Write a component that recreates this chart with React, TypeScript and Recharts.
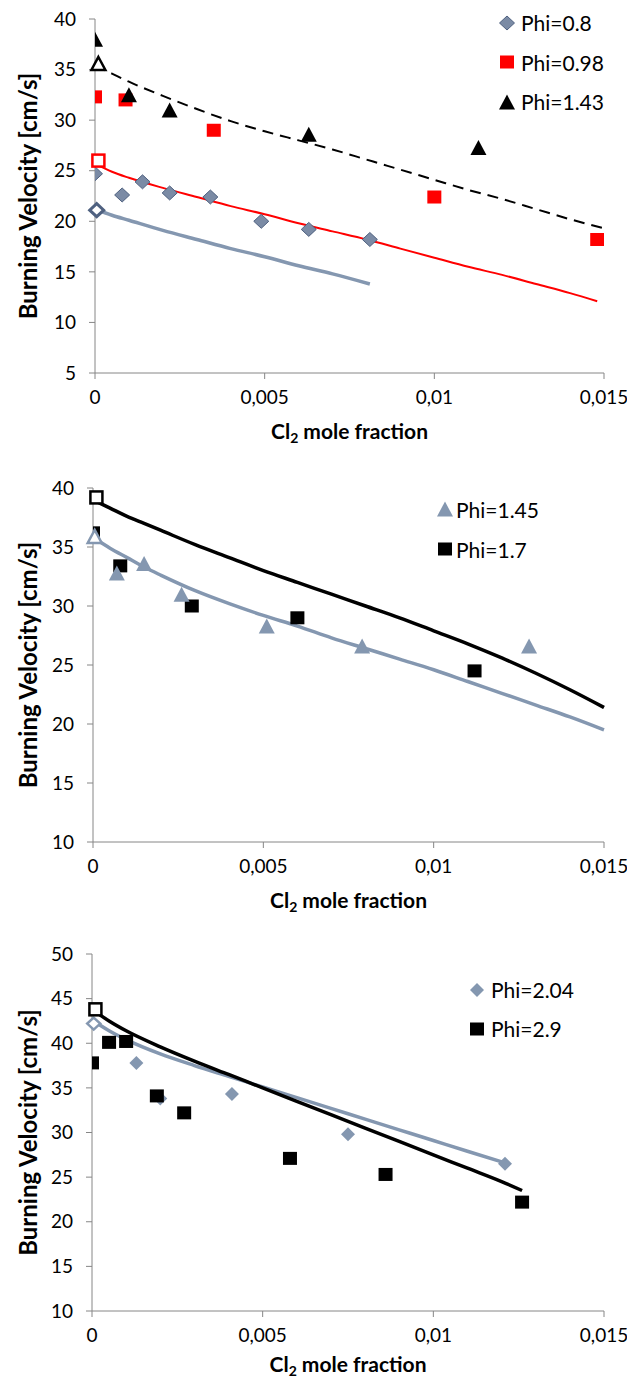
import React from 'react';
import { ComposedChart, Scatter, Line, XAxis, YAxis, Legend, Label } from 'recharts';

const FONT = 'Lato, "Noto Sans", sans-serif';
const AXIS_GREY = '#868686';
const BLUE_GREY = '#8497b0';
const DIAMOND_FILL = '#7b8ba5';
const DIAMOND_EDGE = '#4f6180';
const RED = '#ff0000';
const BLACK = '#000000';

// ---------- shared axis data ----------
const X_TICKS = [0, 0.005, 0.01, 0.015];
const fmtX = (v: number) => String(v).replace('.', ',');
const Y_TITLE = 'Burning Velocity [cm/s]';
const X_TITLE_A = 'Cl';
const X_TITLE_SUB = '2';
const X_TITLE_B = ' mole fraction';

// ---------- chart 1 ----------
const c1YTicks = [5, 10, 15, 20, 25, 30, 35, 40];
const c1Names = ['Phi=0.8', 'Phi=0.98', 'Phi=1.43'];

const phi08MeasX = [0, 0.0008, 0.0014, 0.0022, 0.0034, 0.0049, 0.0063, 0.0081];
const phi08MeasY = [24.7, 22.6, 23.9, 22.8, 22.4, 20.0, 19.2, 18.2];
const phi08OpenX = [0.00005];
const phi08OpenY = [21.1];
const phi08ModelX = [0, 0.0005, 0.001, 0.002, 0.003, 0.004, 0.005, 0.006, 0.007, 0.0081];
const phi08ModelY = [21.2, 20.6, 20.1, 19.1, 18.2, 17.3, 16.5, 15.6, 14.8, 13.8];

const phi098MeasX = [0, 0.0009, 0.0035, 0.01, 0.0148];
const phi098MeasY = [32.3, 32.0, 29.0, 22.4, 18.2];
const phi098OpenX = [0.0001];
const phi098OpenY = [26.0];
const phi098ModelX = [0, 0.0005, 0.001, 0.002, 0.003, 0.004, 0.005, 0.006, 0.007, 0.008, 0.009, 0.01, 0.011, 0.012, 0.013, 0.014, 0.0148];
const phi098ModelY = [25.7, 24.9, 24.3, 23.3, 22.4, 21.5, 20.7, 19.8, 19.0, 18.2, 17.3, 16.4, 15.5, 14.7, 13.8, 12.9, 12.1];

const phi143MeasX = [0, 0.001, 0.0022, 0.0063, 0.0113];
const phi143MeasY = [38.0, 32.5, 31.0, 28.6, 27.3];
const phi143OpenX = [0.0001];
const phi143OpenY = [35.6];
const phi143ModelX = [0, 0.0005, 0.001, 0.002, 0.003, 0.004, 0.005, 0.006, 0.007, 0.008, 0.009, 0.01, 0.011, 0.012, 0.013, 0.014, 0.015];
const phi143ModelY = [35.4, 34.6, 33.8, 32.4, 31.1, 29.9, 28.9, 28.0, 27.1, 26.1, 25.1, 24.1, 23.1, 22.2, 21.2, 20.2, 19.3];

// ---------- chart 2 ----------
const c2YTicks = [10, 15, 20, 25, 30, 35, 40];
const c2Names = ['Phi=1.45', 'Phi=1.7'];

const phi145MeasX = [0.0007, 0.0015, 0.0026, 0.0051, 0.0079, 0.0128];
const phi145MeasY = [32.8, 33.6, 31.0, 28.3, 26.6, 26.6];
const phi145OpenX = [0.00005];
const phi145OpenY = [35.9];
const phi145ModelX = [0, 0.0005, 0.001, 0.0015, 0.002, 0.003, 0.004, 0.005, 0.006, 0.007, 0.008, 0.009, 0.01, 0.011, 0.012, 0.013, 0.014, 0.015];
const phi145ModelY = [35.8, 34.9, 34.1, 33.3, 32.6, 31.3, 30.2, 29.2, 28.3, 27.3, 26.4, 25.5, 24.6, 23.6, 22.6, 21.6, 20.6, 19.5];

const phi17MeasX = [0, 0.0008, 0.0029, 0.006, 0.0112];
const phi17MeasY = [36.2, 33.4, 30.0, 29.0, 24.5];
const phi17OpenX = [0.0001];
const phi17OpenY = [39.2];
const phi17ModelX = [0, 0.0005, 0.001, 0.0015, 0.002, 0.003, 0.004, 0.005, 0.006, 0.007, 0.008, 0.009, 0.01, 0.011, 0.012, 0.013, 0.014, 0.015];
const phi17ModelY = [39.0, 38.3, 37.6, 37.0, 36.4, 35.2, 34.1, 33.0, 32.0, 31.0, 30.0, 29.0, 27.9, 26.8, 25.6, 24.3, 22.9, 21.4];

// ---------- chart 3 ----------
const c3YTicks = [10, 15, 20, 25, 30, 35, 40, 45, 50];
const c3Names = ['Phi=2.04', 'Phi=2.9'];

const phi204MeasX = [0.0013, 0.002, 0.0041, 0.0075, 0.0121];
const phi204MeasY = [37.8, 33.8, 34.3, 29.8, 26.5];
const phi204OpenX = [0.00005];
const phi204OpenY = [42.2];
const phi204ModelX = [0, 0.0005, 0.001, 0.002, 0.003, 0.004, 0.005, 0.006, 0.007, 0.008, 0.009, 0.01, 0.011, 0.0121];
const phi204ModelY = [42.6, 41.4, 40.4, 38.8, 37.5, 36.3, 35.1, 33.9, 32.7, 31.5, 30.3, 29.1, 27.9, 26.6];

const phi29MeasX = [0, 0.0005, 0.001, 0.0019, 0.0027, 0.0058, 0.0086, 0.0126];
const phi29MeasY = [37.8, 40.1, 40.2, 34.1, 32.2, 27.1, 25.3, 22.2];
const phi29OpenX = [0.0001];
const phi29OpenY = [43.8];
const phi29ModelX = [0, 0.0005, 0.001, 0.002, 0.003, 0.004, 0.005, 0.006, 0.007, 0.008, 0.009, 0.01, 0.011, 0.012, 0.0126];
const phi29ModelY = [43.8, 42.5, 41.4, 39.6, 38.0, 36.5, 35.0, 33.5, 32.0, 30.5, 29.0, 27.5, 26.0, 24.5, 23.5];

// ---------- helpers ----------
type Pt = { x: number; y: number };
const zip = (xs: number[], ys: number[]): Pt[] => xs.map((x, i) => ({ x, y: ys[i] }));

type Marker = { kind: 'diamond' | 'square' | 'triangle'; w: number; h: number; fill: string; stroke?: string; sw?: number };
type PointSeries = { name: string; data: Pt[]; marker: Marker; clip?: boolean };
type LineSeries = { name: string; data: Pt[]; stroke: string; width: number; dash?: string };
type LegendItem = { name: string; marker: Marker };

function drawMarker(m: Marker, cx: number, cy: number) {
  const { w, h } = m;
  const common = { fill: m.fill, stroke: m.stroke || 'none', strokeWidth: m.sw || 0 };
  if (m.kind === 'square') {
    return <rect x={cx - w / 2} y={cy - h / 2} width={w} height={h} {...common} />;
  }
  if (m.kind === 'diamond') {
    const pts = `${cx},${cy - h / 2} ${cx + w / 2},${cy} ${cx},${cy + h / 2} ${cx - w / 2},${cy}`;
    return <polygon points={pts} {...common} />;
  }
  const pts = `${cx},${cy - h / 2} ${cx + w / 2},${cy + h / 2} ${cx - w / 2},${cy + h / 2}`;
  return <polygon points={pts} {...common} strokeLinejoin="miter" />;
}

const makeShape = (m: Marker) => (props: any) => {
  const { cx, cy } = props;
  if (cx == null || cy == null) return <g />;
  return <g>{drawMarker(m, cx, cy)}</g>;
};

const XTitle = (offset: number) => (props: any) => {
  const vb = props.viewBox || { x: 0, y: 0, width: 0, height: 0 };
  const cx = vb.x + vb.width / 2;
  const y = vb.y + offset;
  return (
    <text x={cx} y={y} textAnchor="middle" fontFamily={FONT} fontWeight="bold" fontSize={21} fill="#000">
      <tspan>{X_TITLE_A}</tspan>
      <tspan dy={4} fontSize={14}>{X_TITLE_SUB}</tspan>
      <tspan dy={-4}>{X_TITLE_B}</tspan>
    </text>
  );
};

const YTitle = (props: any) => {
  const vb = props.viewBox || { x: 0, y: 0, width: 0, height: 0 };
  const cy = vb.y + vb.height / 2;
  const cx = 27;
  return (
    <text x={cx} y={cy} transform={`rotate(-90 ${cx} ${cy})`} textAnchor="middle" dominantBaseline="central"
      fontFamily={FONT} fontWeight="bold" fontSize={24} fill="#000">
      {Y_TITLE}
    </text>
  );
};

const LegendBox = ({ items, rowH, gap }: { items: LegendItem[]; rowH: number; gap: number }) => (
  <div style={{ fontFamily: FONT, fontSize: 21, color: '#000' }}>
    {items.map((it) => (
      <div key={it.name} style={{ height: rowH, display: 'flex', alignItems: 'center', whiteSpace: 'nowrap' }}>
        <svg width={18} height={18} style={{ flex: 'none' }}>
          {drawMarker(it.marker, 9, 9)}
        </svg>
        <span style={{ marginLeft: gap }}>{it.name}</span>
      </div>
    ))}
  </div>
);

type PanelProps = {
  top: number;
  height: number;
  plotTop: number;
  plotBottom: number;
  plotLeft: number;
  yDomain: [number, number];
  yTicks: number[];
  lines: LineSeries[];
  points: PointSeries[];
  legend: LegendItem[];
  legendLeft: number;
  legendTop: number;
  legendRowH: number;
  legendGap: number;
  xTitleOffset: number;
};

function Panel(p: PanelProps) {
  const xAxisH = p.height - p.plotBottom;
  return (
    <div style={{ position: 'absolute', left: 0, top: p.top, width: 627, height: p.height }}>
      <ComposedChart width={627} height={p.height} margin={{ top: p.plotTop, right: 23, bottom: 0, left: 0 }}>
        <XAxis
          type="number"
          dataKey="x"
          domain={[0, 0.015]}
          ticks={X_TICKS}
          interval={0}
          tickFormatter={fmtX}
          height={xAxisH}
          stroke={AXIS_GREY}
          tickSize={6}
          tickMargin={12}
          tick={{ fill: '#000', fontSize: 19, fontFamily: FONT }}
        >
          <Label content={XTitle(p.xTitleOffset)} />
        </XAxis>
        <XAxis xAxisId="clip" type="number" dataKey="x" domain={[0, 0.015]} hide allowDataOverflow />
        <YAxis
          type="number"
          dataKey="y"
          domain={p.yDomain}
          ticks={p.yTicks}
          interval={0}
          width={p.plotLeft}
          stroke={AXIS_GREY}
          tickSize={6}
          tickMargin={13}
          tick={{ fill: '#000', fontSize: 19, fontFamily: FONT }}
        >
          <Label content={YTitle} />
        </YAxis>
        {p.lines.map((l) => (
          <Line
            key={l.name}
            name={l.name}
            data={l.data}
            dataKey="y"
            type="monotone"
            stroke={l.stroke}
            strokeWidth={l.width}
            strokeDasharray={l.dash}
            dot={false}
            activeDot={false}
            legendType="none"
            isAnimationActive={false}
          />
        ))}
        {p.points.map((s) => (
          <Scatter
            key={s.name}
            name={s.name}
            data={s.data}
            dataKey="y"
            xAxisId={s.clip ? 'clip' : 0}
            shape={makeShape(s.marker)}
            legendType="none"
            isAnimationActive={false}
          />
        ))}
        <Legend
          layout="vertical"
          align="center"
          verticalAlign="middle"
          wrapperStyle={{ left: p.legendLeft, top: p.legendTop, width: 150 }}
          content={() => <LegendBox items={p.legend} rowH={p.legendRowH} gap={p.legendGap} />}
        />
      </ComposedChart>
    </div>
  );
}

// ---------- markers ----------
const mDiamond1: Marker = { kind: 'diamond', w: 15, h: 14, fill: DIAMOND_FILL, stroke: DIAMOND_EDGE, sw: 1 };
const mDiamond1Open: Marker = { kind: 'diamond', w: 14, h: 13, fill: '#fff', stroke: DIAMOND_EDGE, sw: 3 };
const mRedSq: Marker = { kind: 'square', w: 14, h: 13, fill: RED };
const mRedSqOpen: Marker = { kind: 'square', w: 12, h: 12, fill: '#fff', stroke: RED, sw: 2.5 };
const mBlackTri: Marker = { kind: 'triangle', w: 16, h: 15, fill: BLACK };
const mBlackTriOpen: Marker = { kind: 'triangle', w: 14, h: 13, fill: '#fff', stroke: BLACK, sw: 2.5 };
const mGreyTri: Marker = { kind: 'triangle', w: 16, h: 15, fill: BLUE_GREY };
const mGreyTriOpen: Marker = { kind: 'triangle', w: 14, h: 13, fill: '#fff', stroke: BLUE_GREY, sw: 2.5 };
const mBlackSq: Marker = { kind: 'square', w: 14, h: 13, fill: BLACK };
const mBlackSqOpen: Marker = { kind: 'square', w: 12, h: 12, fill: '#fff', stroke: BLACK, sw: 2.5 };
const mGreyDia: Marker = { kind: 'diamond', w: 14, h: 14, fill: BLUE_GREY };
const mGreyDiaOpen: Marker = { kind: 'diamond', w: 13, h: 12, fill: '#fff', stroke: BLUE_GREY, sw: 2.5 };

export default function App() {
  return (
    <div style={{ position: 'absolute', left: 0, top: 0, width: 627, height: 1380, background: '#fff' }}>
      <Panel
        top={0}
        height={460}
        plotTop={19}
        plotBottom={373}
        plotLeft={95}
        yDomain={[5, 40]}
        yTicks={c1YTicks}
        xTitleOffset={66}
        lines={[
          { name: c1Names[0] + ' model', data: zip(phi08ModelX, phi08ModelY), stroke: BLUE_GREY, width: 3.5 },
          { name: c1Names[1] + ' model', data: zip(phi098ModelX, phi098ModelY), stroke: RED, width: 2 },
          { name: c1Names[2] + ' model', data: zip(phi143ModelX, phi143ModelY), stroke: BLACK, width: 2, dash: '11 7' },
        ]}
        points={[
          { name: c1Names[0], data: zip(phi08MeasX, phi08MeasY), marker: mDiamond1, clip: true },
          { name: c1Names[1], data: zip(phi098MeasX, phi098MeasY), marker: mRedSq, clip: true },
          { name: c1Names[2], data: zip(phi143MeasX, phi143MeasY), marker: mBlackTri, clip: true },
          { name: c1Names[0] + ' open', data: zip(phi08OpenX, phi08OpenY), marker: mDiamond1Open },
          { name: c1Names[1] + ' open', data: zip(phi098OpenX, phi098OpenY), marker: mRedSqOpen },
          { name: c1Names[2] + ' open', data: zip(phi143OpenX, phi143OpenY), marker: mBlackTriOpen },
        ]}
        legend={[
          { name: c1Names[0], marker: mDiamond1 },
          { name: c1Names[1], marker: mRedSq },
          { name: c1Names[2], marker: mBlackTri },
        ]}
        legendLeft={498}
        legendTop={3}
        legendRowH={39.5}
        legendGap={5}
      />
      <Panel
        top={460}
        height={470}
        plotTop={28}
        plotBottom={382}
        plotLeft={93}
        yDomain={[10, 40]}
        yTicks={c2YTicks}
        xTitleOffset={66}
        lines={[
          { name: c2Names[0] + ' model', data: zip(phi145ModelX, phi145ModelY), stroke: BLUE_GREY, width: 3.5 },
          { name: c2Names[1] + ' model', data: zip(phi17ModelX, phi17ModelY), stroke: BLACK, width: 3.5 },
        ]}
        points={[
          { name: c2Names[1], data: zip(phi17MeasX, phi17MeasY), marker: mBlackSq, clip: true },
          { name: c2Names[0], data: zip(phi145MeasX, phi145MeasY), marker: mGreyTri, clip: true },
          { name: c2Names[1] + ' open', data: zip(phi17OpenX, phi17OpenY), marker: mBlackSqOpen },
          { name: c2Names[0] + ' open', data: zip(phi145OpenX, phi145OpenY), marker: mGreyTriOpen },
        ]}
        legend={[
          { name: c2Names[0], marker: mGreyTri },
          { name: c2Names[1], marker: mBlackSq },
        ]}
        legendLeft={436}
        legendTop={29}
        legendRowH={40}
        legendGap={2}
      />
      <Panel
        top={930}
        height={450}
        plotTop={24}
        plotBottom={381}
        plotLeft={92}
        yDomain={[10, 50]}
        yTicks={c3YTicks}
        xTitleOffset={61}
        lines={[
          { name: c3Names[0] + ' model', data: zip(phi204ModelX, phi204ModelY), stroke: BLUE_GREY, width: 3.5 },
          { name: c3Names[1] + ' model', data: zip(phi29ModelX, phi29ModelY), stroke: BLACK, width: 3.5 },
        ]}
        points={[
          { name: c3Names[0], data: zip(phi204MeasX, phi204MeasY), marker: mGreyDia, clip: true },
          { name: c3Names[1], data: zip(phi29MeasX, phi29MeasY), marker: mBlackSq, clip: true },
          { name: c3Names[0] + ' open', data: zip(phi204OpenX, phi204OpenY), marker: mGreyDiaOpen },
          { name: c3Names[1] + ' open', data: zip(phi29OpenX, phi29OpenY), marker: mBlackSqOpen },
        ]}
        legend={[
          { name: c3Names[0], marker: mGreyDia },
          { name: c3Names[1], marker: mBlackSq },
        ]}
        legendLeft={468}
        legendTop={40}
        legendRowH={39.3}
        legendGap={5}
      />
    </div>
  );
}
